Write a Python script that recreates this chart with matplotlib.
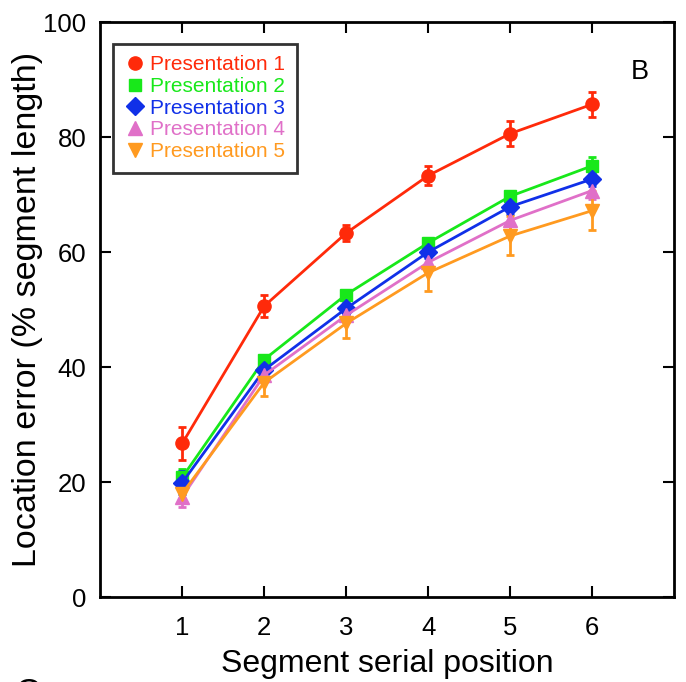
import numpy as np
import matplotlib
matplotlib.use("Agg")
import matplotlib.pyplot as plt

plt.rcParams['font.family'] = ['Liberation Sans', 'DejaVu Sans']

# serial position of each segment
positions = [1, 2, 3, 4, 5, 6]

# mean location error (% segment length) and its SEM, per presentation
p1_mean = [26.7, 50.6, 63.3, 73.3, 80.6, 85.7]
p1_err = [2.8, 1.9, 1.4, 1.7, 2.2, 2.2]
p2_mean = [20.8, 41.3, 52.6, 61.6, 69.7, 75.0]
p2_err = [1.5, 0.8, 0.8, 0.8, 1.0, 1.5]
p3_mean = [19.9, 39.5, 50.2, 60.0, 67.9, 72.7]
p3_err = [2.0, 1.0, 1.0, 1.0, 1.2, 1.2]
p4_mean = [17.4, 38.6, 49.0, 58.2, 65.5, 70.7]
p4_err = [1.8, 1.2, 1.2, 1.4, 1.6, 1.5]
p5_mean = [18.0, 37.3, 47.6, 56.4, 62.8, 67.2]
p5_err = [1.0, 2.3, 2.5, 3.2, 3.4, 3.4]

labels = ['Presentation 1', 'Presentation 2', 'Presentation 3',
          'Presentation 4', 'Presentation 5']
colors = ['#ff2a0a', '#18e81a', '#1030e8', '#e070c8', '#ff9a20']
markers = ['o', 's', 'D', '^', 'v']
msizes = [9.5, 8, 9, 10, 10]

fig = plt.figure(figsize=(6.86, 6.82), dpi=100)
ax = fig.add_axes([0.146, 0.1246, 0.837, 0.8431])

means = [p1_mean, p2_mean, p3_mean, p4_mean, p5_mean]
errs = [p1_err, p2_err, p3_err, p4_err, p5_err]

for m, e, c, mk, ms, lab in zip(means, errs, colors, markers, msizes, labels):
    ax.errorbar(positions, m, yerr=e, color=c, marker=mk, markersize=ms,
                lw=2, elinewidth=2, capsize=3, capthick=2, label=lab)

ax.set_xlim(0, 7)
ax.set_ylim(0, 100)
ax.set_xticks(positions)
ax.set_yticks([0, 20, 40, 60, 80, 100])
ax.tick_params(direction='in', top=True, right=True, length=8, width=1.5,
               labelsize=18.5, pad=10)
ax.tick_params(axis='x', pad=14)
for s in ax.spines.values():
    s.set_linewidth(2)

ax.set_xlabel('Segment serial position', fontsize=23, labelpad=6)
ax.set_ylabel('Location error (% segment length)', fontsize=24.5, labelpad=0)

leg = ax.legend(handles=[plt.Line2D([], [], color=c, marker=mk, ls='none', markersize=ms)
                         for c, mk, ms in zip(colors, markers, msizes)],
                labels=labels, loc='upper left', bbox_to_anchor=(0.022, 0.962),
                fontsize=15, frameon=True, fancybox=False, edgecolor='black',
                handlelength=1.0, handletextpad=0.25, labelspacing=0.13,
                borderpad=0.55, borderaxespad=0)
leg.get_frame().set_linewidth(2)
for t, c in zip(leg.get_texts(), colors):
    t.set_color(c)

ax.text(0.939, 0.913, 'B', transform=ax.transAxes, fontsize=19.5,
        ha='center', va='center')

fig.text(0.04, -0.045, 'C', fontsize=26, ha='center', va='bottom')

fig.savefig('out.png', dpi=100)
